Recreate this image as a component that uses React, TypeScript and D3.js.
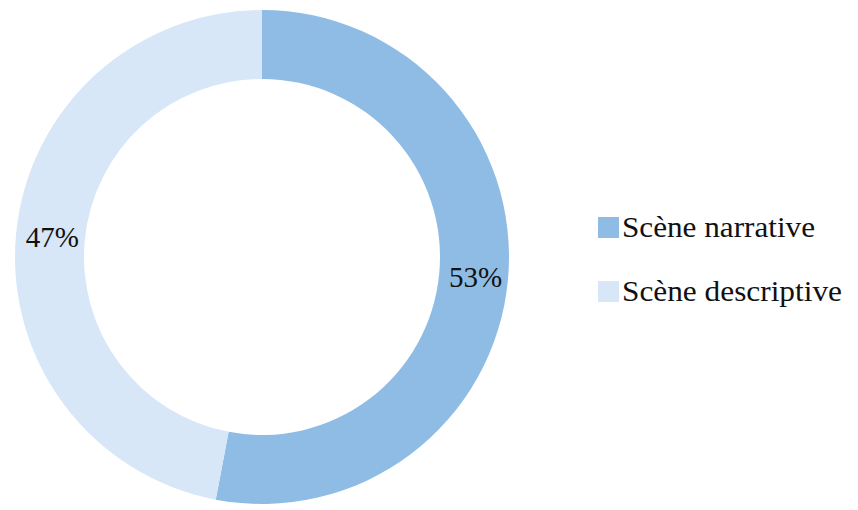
import { useEffect, useRef } from "react";
import * as d3 from "d3";

const categories = ["Scène narrative", "Scène descriptive"];
const values = [53, 47];
const colors = ["#8fbce5", "#d7e7f8"];
// measured widths of the legend labels in the reference
const legendWidths = [193, 220];

const W = 858, H = 510;

export default function App() {
  const ref = useRef<SVGSVGElement | null>(null);

  useEffect(() => {
    const svg = d3.select(ref.current);
    svg.selectAll("*").remove();

    const cx = 262, cy = 257;
    const outerR = 247, innerR = 178;
    const font = "'Liberation Serif', 'Times New Roman', serif";

    const pie = d3.pie<number>().sort(null).value(d => d);
    const arc = d3.arc<d3.PieArcDatum<number>>().innerRadius(innerR).outerRadius(outerR);
    const arcs = pie(values);

    const g = svg.append("g").attr("transform", `translate(${cx},${cy})`);

    g.selectAll("path.slice")
      .data(arcs)
      .enter()
      .append("path")
      .attr("class", "slice")
      .attr("d", arc)
      .attr("fill", (_, i) => colors[i]);

    g.selectAll("text.pct")
      .data(arcs)
      .enter()
      .append("text")
      .attr("class", "pct")
      .attr("transform", d => {
        const [x, y] = arc.centroid(d);
        return `translate(${x + 2},${y})`;
      })
      .attr("text-anchor", "middle")
      .attr("dy", "0.35em")
      .attr("font-family", font)
      .attr("font-size", 29)
      .attr("fill", "#111")
      .text(d => `${d.data}%`);

    // legend
    const legend = svg.append("g").attr("transform", "translate(598,217)");
    categories.forEach((c, i) => {
      const row = legend.append("g").attr("transform", `translate(0,${i * 64})`);
      row.append("rect")
        .attr("x", 0).attr("y", 0)
        .attr("width", 21).attr("height", 21)
        .attr("fill", colors[i]);
      row.append("text")
        .attr("x", 24)
        .attr("y", 20)
        .attr("font-family", font)
        .attr("font-size", 29)
        .attr("fill", "#111")
        .attr("textLength", legendWidths[i])
        .attr("lengthAdjust", "spacingAndGlyphs")
        .text(c);
    });
  }, []);

  return (
    <svg
      ref={ref}
      width={W}
      height={H}
      viewBox={`0 0 ${W} ${H}`}
      style={{ position: "absolute", left: 0, top: 0, background: "#fff" }}
    />
  );
}
